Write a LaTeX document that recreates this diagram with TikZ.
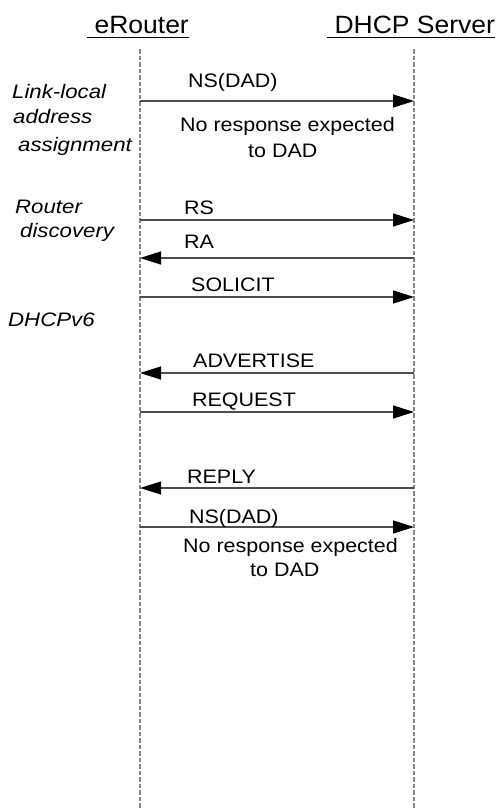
\documentclass[tikz,border=0pt]{standalone}
\usepackage{fontspec}
\setmainfont{Liberation Sans}
\newfontfamily\hdrfont{Liberation Sans}[FakeStretch=1.06]
\newfontfamily\lblfont{Liberation Sans}[FakeStretch=1.1]
\newfontfamily\sidefont{Liberation Sans}[FakeStretch=1.14]
\usetikzlibrary{arrows.meta}
\begin{document}
\begin{tikzpicture}[x=1pt,y=-1pt,
  hdr/.style={inner sep=0pt,anchor=base west,font=\hdrfont\fontsize{25pt}{30pt}\selectfont},
  lbl/.style={inner sep=0pt,anchor=base west,font=\lblfont\fontsize{19.5pt}{24pt}\selectfont},
  side/.style={inner sep=0pt,anchor=base west,font=\sidefont\itshape\fontsize{19.5pt}{24pt}\selectfont},
  life/.style={draw=black!47,line width=1.4pt,dash pattern=on 4.5pt off 2pt},
  msg/.style={draw=black!70,line width=1.2pt,-{Triangle[length=21pt,width=13pt,black]}},
  uline/.style={draw=black,line width=1.8pt}]
\useasboundingbox (0,0) rectangle (498,809);
% headers
\node[hdr] (hE) at (87,33) {\ eRouter};
\node[hdr] (hD) at (327,33) {\ DHCP Server};
\draw[uline] ([yshift=-4.5pt]hE.base west) -- ([yshift=-4.5pt]hE.base east);
\draw[uline] ([yshift=-4.5pt]hD.base west) -- ([yshift=-4.5pt]hD.base east);
% lifelines
\coordinate (Etop) at (140,49);
\coordinate (Ebot) at (140,809);
\coordinate (Dtop) at (414,49);
\coordinate (Dbot) at (414,809);
\draw[life] (Etop) -- (Ebot);
\draw[life] (Dtop) -- (Dbot);
% message end points
\foreach \n/\y in {1/101,2/220,3/258,4/297,5/373,6/412,7/488,8/527}{
  \coordinate (E\n) at (140,\y);
  \coordinate (D\n) at (414,\y);
}
\draw[msg] (E1) -- (D1);
\draw[msg] (E2) -- (D2);
\draw[msg] (D3) -- (E3);
\draw[msg] (E4) -- (D4);
\draw[msg] (D5) -- (E5);
\draw[msg] (E6) -- (D6);
\draw[msg] (D7) -- (E7);
\draw[msg] (E8) -- (D8);
% message labels
\node[lbl] (m1) at (188,87) {NS(DAD)};
\node[lbl] (n1) at (180,131) {No response expected};
\node[lbl] (t1) at (248,157) {to DAD};
\node[lbl] (m2) at (184,214) {RS};
\node[lbl] (m3) at (184,248) {RA};
\node[lbl] (m4) at (191,291) {SOLICIT};
\node[lbl] (m5) at (193,367) {ADVERTISE};
\node[lbl] (m6) at (192,406) {REQUEST};
\node[lbl] (m7) at (187,483) {REPLY};
\node[lbl] (m8) at (189,523) {NS(DAD)};
\node[lbl] (n8) at (183,552) {No response expected};
\node[lbl] (t8) at (250,576) {to DAD};
% phase labels
\node[side] (s1) at (12,98) {Link-local};
\node[side] (s2) at (13,123) {address};
\node[side] (s3) at (18,151) {assignment};
\node[side] (s4) at (15,213) {Router};
\node[side] (s5) at (20,237) {discovery};
\node[side] (s6) at (8,326) {DHCPv6};
\end{tikzpicture}
\end{document}
